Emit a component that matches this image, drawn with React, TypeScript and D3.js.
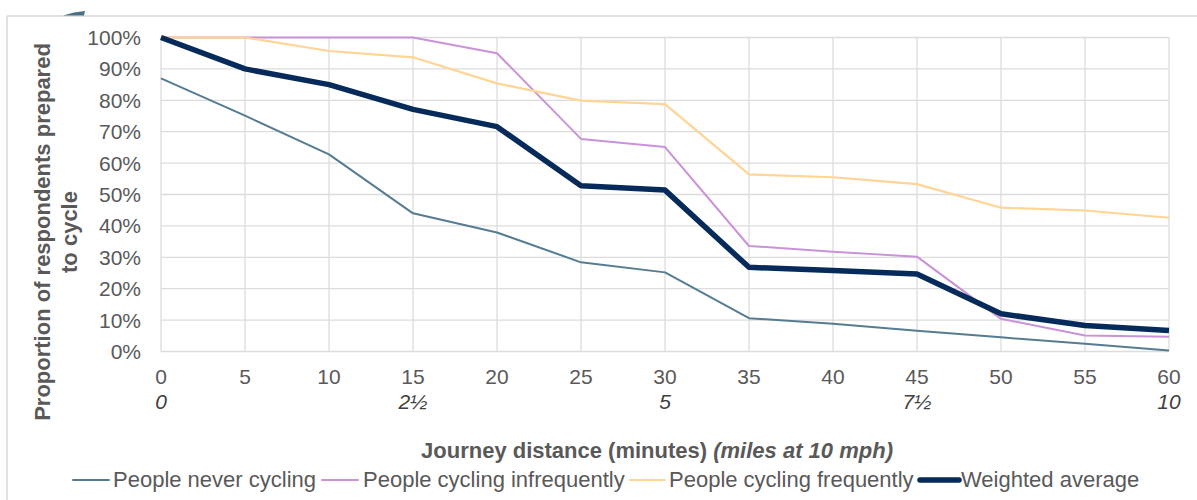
import React from "react";
import * as d3 from "d3";

const minutes = [0, 5, 10, 15, 20, 25, 30, 35, 40, 45, 50, 55, 60];
const neverCycling = [87.0, 75.1, 62.8, 44.0, 37.9, 28.4, 25.2, 10.6, 8.8, 6.6, 4.5, 2.5, 0.3];
const cyclingInfrequently = [100, 100, 100, 100, 95.0, 67.7, 65.1, 33.6, 31.8, 30.2, 10.4, 5.1, 4.7];
const cyclingFrequently = [100, 100, 95.7, 93.7, 85.4, 79.9, 78.8, 56.4, 55.5, 53.3, 45.8, 44.9, 42.6];
const weightedAverage = [100, 90.0, 85.0, 77.1, 71.6, 52.8, 51.4, 26.8, 25.8, 24.7, 12.0, 8.3, 6.7];
const yTicks = [0, 10, 20, 30, 40, 50, 60, 70, 80, 90, 100];
const milesTicks: [number, string][] = [[0, "0"], [15, "2½"], [30, "5"], [45, "7½"], [60, "10"]];

const seriesNames = ["People never cycling", "People cycling infrequently", "People cycling frequently", "Weighted average"];

const W = 1197;
const H = 500;
const FONT = "'Liberation Sans', Arial, sans-serif";
const GRAY = "#595959";

export default function App() {
  const x = d3.scaleLinear().domain([0, 60]).range([161, 1169]);
  const y = d3.scaleLinear().domain([0, 100]).range([351.5, 37.5]);
  const line = d3
    .line<number>()
    .x((_, i) => x(minutes[i]))
    .y((v) => y(v));

  const series = [
    { name: seriesNames[0], data: neverCycling, color: "#557c91", width: 2 },
    { name: seriesNames[1], data: cyclingInfrequently, color: "#c992d9", width: 2 },
    { name: seriesNames[2], data: cyclingFrequently, color: "#ffd494", width: 2.2 },
    { name: seriesNames[3], data: weightedAverage, color: "#062a5a", width: 5.5 },
  ];

  const legend = [
    { l1: 73, l2: 109, tx: 113 },
    { l1: 322, l2: 358, tx: 363 },
    { l1: 630, l2: 665, tx: 669 },
    { l1: 920, l2: 959, tx: 961 },
  ];

  return (
    <svg
      width={W}
      height={H}
      style={{ position: "absolute", left: 0, top: 0, background: "#fff" }}
      fontFamily={FONT}
    >
      {/* outer frame */}
      <line x1={7} x2={W} y1={16} y2={16} stroke="#d9d9d9" strokeWidth={1.5} />
      <line x1={7} x2={7} y1={16} y2={H} stroke="#d9d9d9" strokeWidth={1.5} />
      <polygon points="63,15.5 84,15.5 85,11 74,12.5" fill="#4a6f85" />

      {/* grid */}
      {yTicks.map((t) => (
        <line key={"gy" + t} x1={x(0)} x2={x(60)} y1={y(t)} y2={y(t)} stroke="#dcdcdc" strokeWidth={1.3} />
      ))}
      {minutes.map((m) => (
        <line key={"gx" + m} x1={x(m)} x2={x(m)} y1={y(100)} y2={y(0)} stroke="#dcdcdc" strokeWidth={1.3} />
      ))}

      {/* y tick labels */}
      {yTicks.map((t) => (
        <text key={"yl" + t} x={141} y={y(t)} dy="0.36em" textAnchor="end" fontSize={21} fill={GRAY}>
          {t + "%"}
        </text>
      ))}

      {/* x tick labels */}
      {minutes.map((m) => (
        <text key={"xl" + m} x={x(m)} y={384} textAnchor="middle" fontSize={21} fill={GRAY}>
          {m}
        </text>
      ))}
      {milesTicks.map(([m, lab]) => (
        <text key={"ml" + m} x={x(m)} y={409} textAnchor="middle" fontSize={21} fontStyle="italic" fill="#404040">
          {lab}
        </text>
      ))}

      {/* axis titles */}
      <text x={657} y={458} textAnchor="middle" fontSize={22} fontWeight="bold" fill={GRAY}>
        <tspan>Journey distance (minutes) </tspan>
        <tspan fontStyle="italic">(miles at 10 mph)</tspan>
      </text>
      <g transform="translate(50,232) rotate(-90)">
        <text x={0} y={0} textAnchor="middle" fontSize={22} fontWeight="bold" fill={GRAY}>
          Proportion of respondents prepared
        </text>
        <text x={0} y={27} textAnchor="middle" fontSize={22} fontWeight="bold" fill={GRAY}>
          to cycle
        </text>
      </g>

      {/* series */}
      {series.map((s) => (
        <path
          key={s.name}
          d={line(s.data) || ""}
          fill="none"
          stroke={s.color}
          strokeWidth={s.width}
          strokeLinejoin="round"
        />
      ))}

      {/* legend */}
      {series.map((s, i) => (
        <g key={"lg" + i}>
          <line
            x1={legend[i].l1}
            x2={legend[i].l2}
            y1={480}
            y2={480}
            stroke={s.color}
            strokeWidth={s.width}
            strokeLinecap="round"
          />
          <text x={legend[i].tx} y={487} fontSize={22} fill={GRAY}>
            {s.name}
          </text>
        </g>
      ))}
    </svg>
  );
}
